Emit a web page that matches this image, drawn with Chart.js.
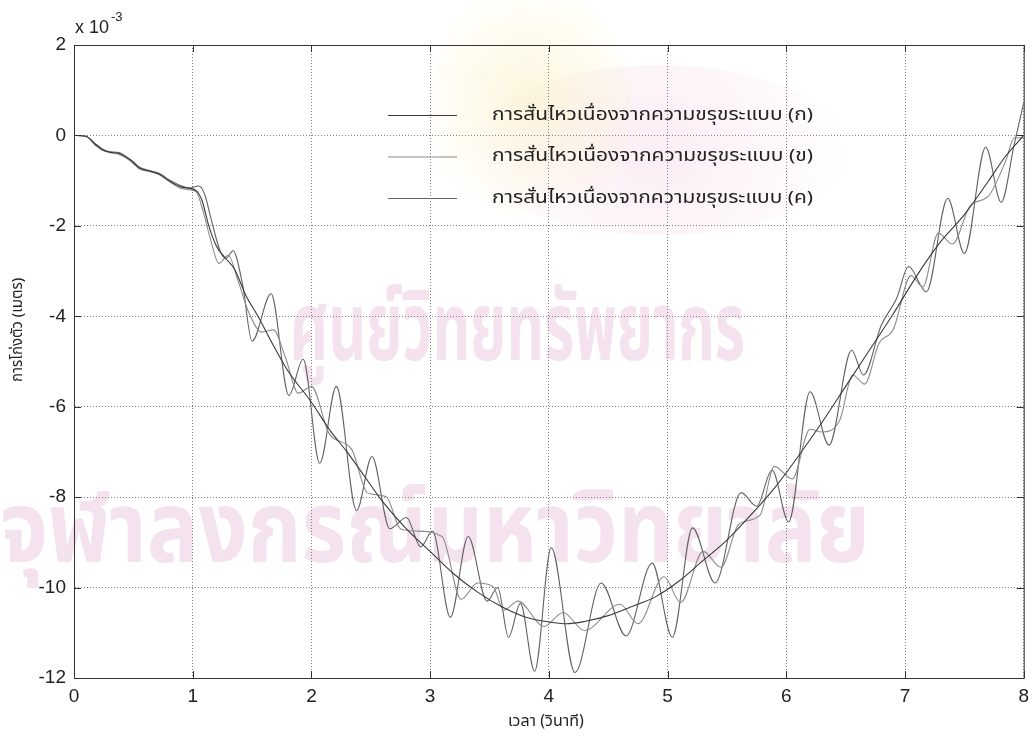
<!DOCTYPE html>
<html>
<head>
<meta charset="utf-8">
<script src="https://cdn.jsdelivr.net/npm/chart.js@4/dist/chart.umd.min.js"></script>
<style>
  html, body { margin: 0; padding: 0; background: #fff; }
  #wrap { width: 1036px; height: 740px; }
</style>
</head>
<body>
<div id="wrap"><canvas id="deflection" width="1036" height="740"></canvas></div>
<script>
// deflection of the beam (x 10^-3 m) against time (s), three roughness profiles
var labels = [
    'การสั่นไหวเนื่องจากความขรุขระแบบ (ก)'
  , 'การสั่นไหวเนื่องจากความขรุขระแบบ (ข)'
  , 'การสั่นไหวเนื่องจากความขรุขระแบบ (ค)'
]

var xTicks = [0, 1, 2, 3, 4, 5, 6, 7, 8]
var yTicks = [-12, -10, -8, -6, -4, -2, 0, 2]

// profile (ก) - smooth
var tA = [0, 0.1, 0.18, 0.24, 0.3, 0.38, 0.44, 0.5, 0.55, 0.64, 0.72, 0.8, 0.89, 0.97, 1.03, 1.08, 1.13, 1.2, 1.27, 1.35,
          1.45, 1.55, 1.65, 1.8, 2.0, 2.15, 2.3, 2.45, 2.6, 2.8, 3.0, 3.2, 3.4, 3.6, 3.8, 4.0, 4.15, 4.3, 4.5, 4.7,
          4.9, 5.1, 5.3, 5.5, 5.7, 5.9, 6.1, 6.3, 6.5, 6.7, 6.9, 7.1, 7.3, 7.5, 7.7, 7.85, 8.0]
var vA = [0, -0.02, -0.2, -0.32, -0.37, -0.4, -0.48, -0.6, -0.72, -0.79, -0.86, -1.0, -1.13, -1.17, -1.22, -1.45, -1.95, -2.45, -2.7, -2.95,
          -3.55, -4.0, -4.5, -5.2, -5.9, -6.5, -7.0, -7.55, -8.1, -8.7, -9.2, -9.7, -10.1, -10.42, -10.65, -10.76, -10.8, -10.75, -10.62, -10.42,
          -10.2, -9.85, -9.4, -8.95, -8.4, -7.8, -7.1, -6.35, -5.55, -4.75, -3.95, -3.1, -2.35, -1.75, -1.02, -0.45, 0.0]

// profile (ข) - medium oscillation
var tB = [0, 0.1, 0.18, 0.24, 0.3, 0.38, 0.44, 0.5, 0.55, 0.64, 0.72, 0.8, 0.89, 0.97, 1.03, 1.09, 1.15, 1.22, 1.3, 1.38,
          1.47, 1.58, 1.68, 1.78, 1.89, 2.0, 2.15, 2.34, 2.47, 2.63, 2.75, 2.88, 3.1, 3.26, 3.4, 3.53, 3.62, 3.74, 3.96, 4.12,
          4.3, 4.6, 4.75, 4.97, 5.11, 5.3, 5.45, 5.6, 5.78, 5.9, 6.05, 6.2, 6.3, 6.45, 6.56, 6.66, 6.78, 6.9, 7.05, 7.15,
          7.28, 7.4, 7.55, 7.7, 7.85, 7.92, 8.0]
var vB = [0, -0.02, -0.22, -0.33, -0.38, -0.42, -0.5, -0.62, -0.74, -0.8, -0.87, -1.02, -1.16, -1.2, -1.25, -1.7, -2.3, -2.83, -2.65, -3.2,
          -3.9, -4.35, -4.3, -4.9, -5.7, -5.55, -6.6, -6.95, -7.9, -7.99, -8.7, -8.75, -8.87, -10.26, -9.9, -9.98, -10.5, -10.3, -10.86, -10.55,
          -10.95, -10.37, -10.8, -9.76, -10.33, -9.2, -9.55, -8.6, -8.39, -7.32, -7.6, -6.5, -6.56, -6.3, -5.3, -5.5, -4.6, -4.3, -3.1, -3.35,
          -2.16, -2.4, -1.55, -1.35, -0.55, -0.05, -0.05]

// profile (ค) - large oscillation
var tC = [0, 0.1, 0.18, 0.24, 0.3, 0.38, 0.44, 0.5, 0.55, 0.64, 0.72, 0.8, 0.89, 0.97, 1.05, 1.1, 1.16, 1.23, 1.28, 1.34,
          1.42, 1.5, 1.66, 1.81, 1.93, 2.07, 2.21, 2.38, 2.51, 2.66, 2.8, 2.92, 3.02, 3.17, 3.32, 3.48, 3.57, 3.66, 3.76, 3.88,
          4.02, 4.22, 4.44, 4.65, 4.87, 5.04, 5.21, 5.4, 5.62, 5.75, 5.88, 6.02, 6.2, 6.36, 6.55, 6.65, 6.8, 6.93, 7.03, 7.18,
          7.36, 7.5, 7.68, 7.81, 7.92, 8.0]
var vC = [0, -0.02, -0.18, -0.3, -0.36, -0.38, -0.47, -0.58, -0.7, -0.78, -0.84, -0.98, -1.1, -1.16, -1.12, -1.3, -1.9, -2.55, -2.72, -2.55,
          -3.3, -4.55, -3.5, -5.75, -4.95, -7.25, -5.55, -8.3, -7.1, -8.7, -8.45, -9.1, -8.75, -10.66, -8.87, -10.3, -10.0, -11.1, -10.35, -11.85,
          -9.12, -11.88, -9.9, -11.07, -9.46, -11.1, -8.68, -9.9, -7.9, -8.2, -7.4, -8.55, -5.67, -6.85, -4.75, -5.3, -4.2, -3.6, -2.9, -3.46,
          -1.39, -2.61, -0.26, -1.48, -0.2, 0.72]

var yTitle = 'การโก่งตัว (เมตร)'
var xTitle = 'เวลา (วินาที)'

var thaiFont = '"Noto Sans Thai", "Noto Sans Thai UI", Tahoma, Loma, Garuda, "Liberation Sans", sans-serif'
var numFont  = '"Liberation Sans", Arial, sans-serif'

function points(ts, vs) {
  return ts.map(function(t, i) { return {x: t, y: vs[i]} })
}

function series(label, ts, vs, color, width) {
  return {
      label: label
    , data: points(ts, vs)
    , borderColor: color
    , borderWidth: width
    , pointRadius: 0
    , fill: false
    , cubicInterpolationMode: 'monotone'
  }
}

// text squeezed or stretched to a given width
function fitText(ctx, text, x, y, w) {
  var m = ctx.measureText(text).width
  ctx.save()
  ctx.translate(x, y)
  ctx.scale(w / m, 1)
  ctx.fillText(text, 0, 0)
  ctx.restore()
}

// paper background with the faint library stamp behind the plot
var paper = {
  id: 'paper',
  beforeDraw: function(chart) {
    var ctx = chart.ctx
    ctx.save()
    ctx.fillStyle = '#fff'
    ctx.fillRect(0, 0, chart.width, chart.height)

    var g = ctx.createRadialGradient(660, 150, 10, 660, 150, 190)
    g.addColorStop(0, 'rgba(246,212,228,0.4)')
    g.addColorStop(1, 'rgba(246,212,228,0)')
    ctx.fillStyle = g
    ctx.beginPath()
    ctx.ellipse(660, 150, 190, 85, 0, 0, Math.PI * 2)
    ctx.fill()

    var y = ctx.createRadialGradient(530, 100, 10, 530, 100, 125)
    y.addColorStop(0, 'rgba(250,236,185,0.45)')
    y.addColorStop(1, 'rgba(250,236,185,0)')
    ctx.fillStyle = y
    ctx.beginPath()
    ctx.ellipse(530, 110, 100, 130, 0, 0, Math.PI * 2)
    ctx.fill()

    ctx.fillStyle = 'rgba(238,210,228,0.62)'
    ctx.textBaseline = 'alphabetic'
    ctx.font = 'bold 96px ' + thaiFont
    fitText(ctx, 'ศูนย์วิทยทรัพยากร', 290, 360, 455)
    ctx.font = 'bold 100px ' + thaiFont
    fitText(ctx, 'จุฬาลงกรณ์มหาวิทยาลัย', 0, 562, 870)
    ctx.restore()
  }
}

// box, inward ticks, exponent, axis titles and legend, matlab style
var frame = {
  id: 'frame',
  afterDraw: function(chart) {
    var ctx = chart.ctx
    var a = chart.chartArea
    var xs = chart.scales.x
    var ys = chart.scales.y
    ctx.save()
    ctx.strokeStyle = '#333'
    ctx.lineWidth = 1
    ctx.strokeRect(a.left + 0.5, a.top + 0.5, a.right - a.left, a.bottom - a.top)

    ctx.beginPath()
    xTicks.forEach(function(v) {
      var px = Math.round(xs.getPixelForValue(v)) + 0.5
      ctx.moveTo(px, a.bottom); ctx.lineTo(px, a.bottom - 7)
      ctx.moveTo(px, a.top); ctx.lineTo(px, a.top + 7)
    })
    yTicks.forEach(function(v) {
      var py = Math.round(ys.getPixelForValue(v)) + 0.5
      ctx.moveTo(a.left, py); ctx.lineTo(a.left + 7, py)
      ctx.moveTo(a.right, py); ctx.lineTo(a.right - 7, py)
    })
    ctx.stroke()

    // axis multiplier
    ctx.fillStyle = '#222'
    ctx.textBaseline = 'middle'
    ctx.font = '18px ' + numFont
    ctx.fillText('x 10', a.left + 1, a.top - 17)
    var w = ctx.measureText('x 10').width
    ctx.font = '13px ' + numFont
    ctx.fillText('-3', a.left + 3 + w, a.top - 28)

    // axis titles
    ctx.font = '16px ' + thaiFont
    ctx.textAlign = 'center'
    ctx.fillText(xTitle, xs.getPixelForValue(4) - 3, 723)
    ctx.save()
    ctx.translate(19, ys.getPixelForValue(-4.3))
    ctx.rotate(-Math.PI / 2)
    ctx.font = '15px ' + thaiFont
    ctx.fillText(yTitle, 0, 0)
    ctx.restore()
    ctx.textAlign = 'left'

    // legend
    ctx.font = '17px ' + thaiFont
    chart.data.datasets.forEach(function(ds, i) {
      var ly = 115.5 + i * 41.5
      ctx.strokeStyle = ds.borderColor
      ctx.lineWidth = 1
      ctx.beginPath()
      ctx.moveTo(388, ly); ctx.lineTo(457, ly)
      ctx.stroke()
      ctx.fillStyle = '#222'
      fitText(ctx, ds.label, 492, ly + 1, 321)
    })
    ctx.restore()
  }
}

var ctx = document.getElementById('deflection').getContext('2d')

new Chart(ctx, {
  type: 'line'
, data: {
    datasets: [
        series(labels[0], tA, vA, '#3a3a3a', 1.1)
      , series(labels[1], tB, vB, '#8c8c8c', 1.1)
      , series(labels[2], tC, vC, '#626262', 1.1)
    ]
  }
, options: {
    responsive: false
  , animation: false
  , layout: {padding: {top: 45, right: 8, left: 0, bottom: 0}}
  , plugins: {legend: {display: false}, tooltip: {enabled: false}}
  , scales: {
      x: {
        type: 'linear'
      , min: 0
      , max: 8
      , afterBuildTicks: function(s) { s.ticks = xTicks.map(function(v) { return {value: v} }) }
      , afterFit: function(s) { s.height = 62 }
      , grid: {color: '#808080', lineWidth: 1, drawTicks: false}
      , border: {color: '#333', width: 1, dash: [1, 2]}
      , ticks: {font: {family: numFont, size: 19}, color: '#222', padding: 7, maxRotation: 0}
      }
    , y: {
        type: 'linear'
      , min: -12
      , max: 2
      , afterBuildTicks: function(s) { s.ticks = yTicks.map(function(v) { return {value: v} }) }
      , afterFit: function(s) { s.width = 74 }
      , grid: {color: '#808080', lineWidth: 1, drawTicks: false}
      , border: {color: '#333', width: 1, dash: [1, 2]}
      , ticks: {font: {family: numFont, size: 19}, color: '#222', padding: 8}
      }
    }
  }
, plugins: [paper, frame]
})
</script>
</body>
</html>
